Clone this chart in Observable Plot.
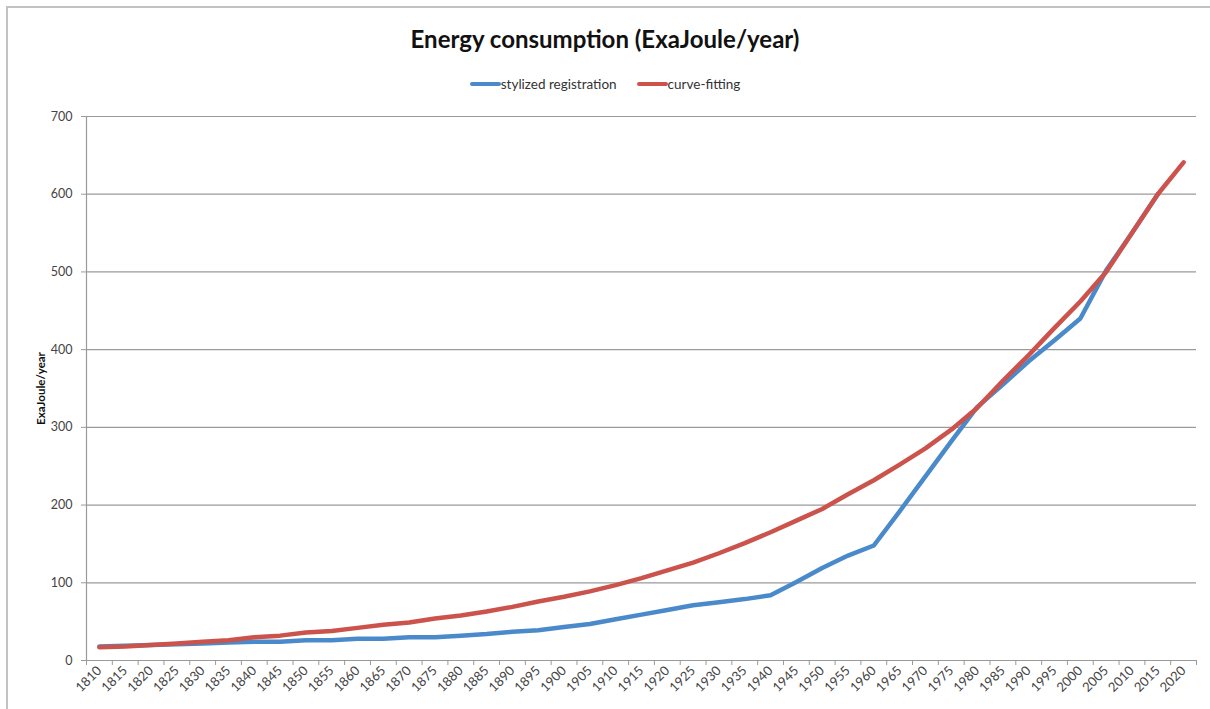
<!DOCTYPE html>
<html>
<head>
<meta charset="utf-8">
<script src="https://cdn.jsdelivr.net/npm/d3@7"></script>
<script src="https://cdn.jsdelivr.net/npm/@observablehq/plot@0.6"></script>
<style>
  html, body { margin: 0; padding: 0; background: #fff; }
  #wrap { position: relative; width: 1210px; height: 709px; overflow: hidden; font-family: Lato, "Open Sans", sans-serif; }
  #border { position: absolute; left: 6px; top: 6px; width: 1210px; height: 709px; border-top: 2px solid #c2c2c2; border-left: 2px solid #c2c2c2; z-index: 5; pointer-events: none; }
  #title { position: absolute; left: 0; width: 1210px; top: 24px; text-align: center; font-size: 24px; font-weight: bold; color: #111; }
  #legend { position: absolute; left: 0; width: 1210px; top: 73px; text-align: center; font-size: 13.5px; color: #333; }
  .item { display: inline-flex; align-items: center; margin: 0 10px; }
  .sw { display: inline-block; width: 31px; height: 4.5px; border-radius: 2px; margin-right: 0px; }
  #chart { position: absolute; left: 0; top: 100px; }
  g[aria-label="y-axis label"] text { font-weight: bold; fill: #111; font-size: 11.5px; }
</style>
</head>
<body>
<div id="wrap">
  <div id="title">Energy consumption (ExaJoule/year)</div>
  <div id="legend"></div>
  <div id="chart"></div>
  <div id="border"></div>
</div>
<script>
const years = [1810,1815,1820,1825,1830,1835,1840,1845,1850,1855,1860,1865,1870,1875,1880,1885,1890,1895,1900,1905,1910,1915,1920,1925,1930,1935,1940,1945,1950,1955,1960,1965,1970,1975,1980,1985,1990,1995,2000,2005,2010,2015,2020];
const registration = [18,19,20,21,22,23,24,24,26,26,28,28,30,30,32,34,37,39,43,47,53,59,65,71,75,79,84,101,119,135,148,192,237,282,326,355,385,412,440,502,550,600];
const curveFitting = [17,18,20,22,24,26,30,32,36,38,42,46,49,54,58,63,69,76,82,89,97,106,116,126,138,151,165,180,195,214,232,252,273,297,325,360,393,428,462,500,550,600,641];
const seriesNames = ["stylized registration", "curve-fitting"];
const seriesColors = ["#4a8acb", "#cb534c"];
const yTicks = [0,100,200,300,400,500,600,700];

const step = years[1] - years[0];
const boundaries = years.map(y => y - step / 2).concat([years[years.length - 1] + step / 2]);

const rows = [];
registration.forEach((v, i) => rows.push({year: years[i], value: v, series: seriesNames[0]}));
curveFitting.forEach((v, i) => rows.push({year: years[i], value: v, series: seriesNames[1]}));

const legend = document.getElementById("legend");
seriesNames.forEach((n, i) => {
  const s = document.createElement("span");
  s.className = "item";
  s.innerHTML = `<span class="sw" style="background:${seriesColors[i]}"></span>${n}`;
  legend.appendChild(s);
});

const chart = Plot.plot({
  width: 1210,
  height: 609,
  marginTop: 16,
  marginBottom: 49,
  marginLeft: 86,
  marginRight: 14,
  style: {fontFamily: "Lato, 'Open Sans', sans-serif", fontSize: "12.5px", color: "#444", background: "#fff"},
  x: {domain: [boundaries[0], boundaries[boundaries.length - 1]]},
  y: {domain: [yTicks[0], yTicks[yTicks.length - 1]]},
  color: {domain: seriesNames, range: seriesColors},
  marks: [
    Plot.gridY(yTicks, {stroke: "#9a9a9a", strokeOpacity: 1, strokeWidth: 1.2}),
    Plot.ruleY([yTicks[0]], {stroke: "#9a9a9a", strokeWidth: 1.2}),
    Plot.ruleX([boundaries[0]], {stroke: "#9a9a9a", strokeWidth: 1.2}),
    Plot.axisY({ticks: yTicks, tickSize: 5, tickPadding: 9, stroke: "#9a9a9a", label: "ExaJoule/year", labelAnchor: "center", labelArrow: "none", labelOffset: 50, fill: "#444"}),
    Plot.axisX({ticks: boundaries, tickSize: 5, tickFormat: () => "", stroke: "#9a9a9a", label: null}),
    Plot.axisX({ticks: years, tickSize: 0, tickPadding: 8, tickRotate: -45, tickFormat: d => String(d), label: null, fill: "#444", fontSize: 13}),
    Plot.line(rows, {x: "year", y: "value", stroke: "series", z: "series", strokeWidth: 4.5, strokeLinejoin: "round", strokeLinecap: "round"})
  ]
});
document.getElementById("chart").appendChild(chart);
</script>
</body>
</html>
